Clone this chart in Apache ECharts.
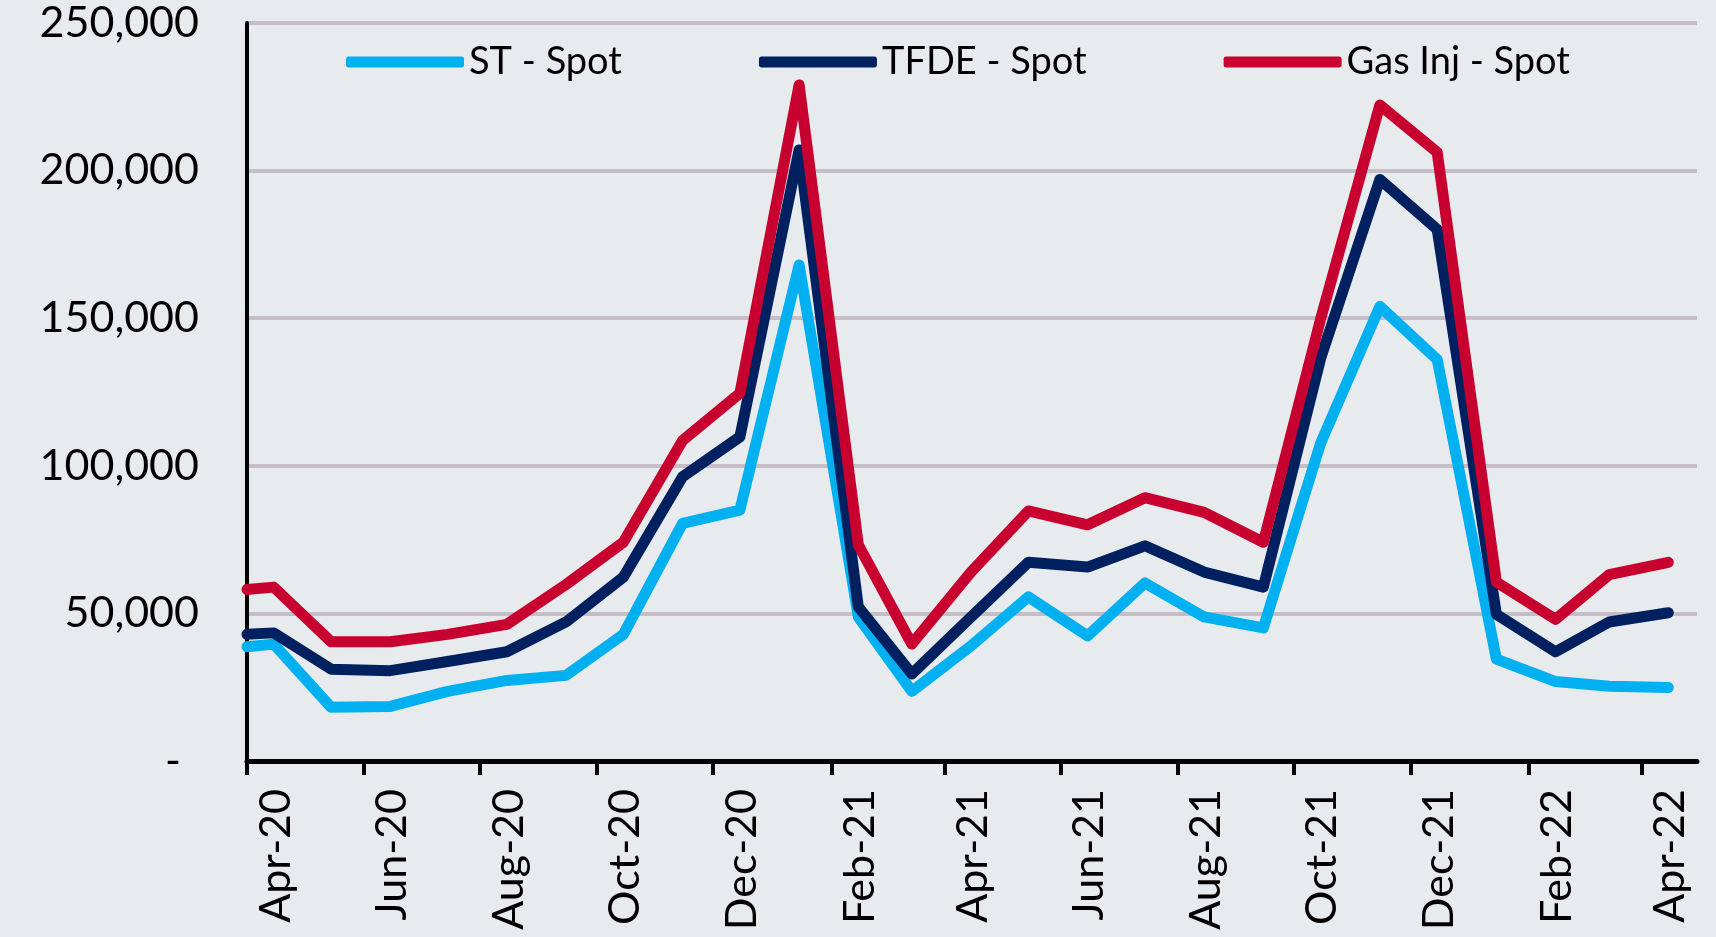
<!DOCTYPE html>
<html>
<head>
<meta charset="utf-8">
<script src="https://cdn.jsdelivr.net/npm/echarts@6/dist/echarts.min.js"></script>
<style>
  html, body { margin: 0; padding: 0; background: #E8EBEE; }
  #chart { width: 1716px; height: 937px; }
</style>
</head>
<body>
<div id="chart"></div>
<script>
// Spot charter rates by vessel type

var dates = [
    '2020-04-01', '2020-04-15', '2020-05-15', '2020-06-15', '2020-07-15', '2020-08-15',
    '2020-09-15', '2020-10-15', '2020-11-15', '2020-12-15', '2021-01-15', '2021-02-15',
    '2021-03-15', '2021-04-15', '2021-05-15', '2021-06-15', '2021-07-15', '2021-08-15',
    '2021-09-15', '2021-10-15', '2021-11-15', '2021-12-15', '2022-01-15', '2022-02-15',
    '2022-03-15', '2022-04-15'
];
var stSpot = [
    38700, 39600, 18200, 18500, 23600, 27300, 29000, 42900, 80500, 85000, 168000, 48800,
    23600, 39000, 55600, 42400, 60300, 48800, 45100, 107700, 154000, 136000, 34500, 26900,
    25300, 24900
];
var tfdeSpot = [
    42900, 43400, 31100, 30600, 33700, 37000, 47100, 62300, 96300, 109800, 207000, 52200,
    29500, 48800, 67300, 65700, 72900, 64000, 58900, 136400, 197000, 180100, 49700, 37000,
    47100, 50200
];
var gasInjSpot = [
    58100, 58900, 40400, 40400, 42900, 46300, 59800, 74100, 108600, 124600, 229000, 73200,
    39600, 64000, 84700, 80000, 89200, 84200, 74100, 149800, 222200, 206200, 60600, 48000,
    63100, 67300
];
var xTickDates = [
    '2020-04-01', '2020-06-01', '2020-08-01', '2020-10-01', '2020-12-01', '2021-02-01', '2021-04-01',
    '2021-06-01', '2021-08-01', '2021-10-01', '2021-12-01', '2022-02-01', '2022-04-01'
];
var xTickLabels = [
    'Apr-20', 'Jun-20', 'Aug-20', 'Oct-20', 'Dec-20', 'Feb-21', 'Apr-21',
    'Jun-21', 'Aug-21', 'Oct-21', 'Dec-21', 'Feb-22', 'Apr-22'
];
var yTickLabels = ['-', '50,000', '100,000', '150,000', '200,000', '250,000'];

// dates as day numbers (UTC) so the value axis spaces them by days
var DAY = 24 * 3600 * 1000;
function toDay(s) {
    var p = s.split('-');
    return Date.UTC(+p[0], +p[1] - 1, +p[2]) / DAY;
}

var tickValues = xTickDates.map(toDay);
// labels sit a little right of their tick, as in the original
var labelValues = tickValues.map(function (t) { return t + 15; });

function pairs(vals) {
    return dates.map(function (d, i) { return [toDay(d), vals[i]]; });
}

var chart = echarts.init(document.getElementById('chart'));

var font = 'Lato';

var option = {
    backgroundColor: '#E8EBEE',
    animation: false,
    grid: { left: 247, right: 19, top: 23, bottom: 176, containLabel: false },
    legend: {
        left: 346,
        top: 42,
        padding: 0,
        itemGap: 137,
        itemWidth: 118,
        itemHeight: 11,
        icon: 'roundRect',
        textStyle: { fontFamily: font, fontSize: 38, color: '#000', lineHeight: 40 },
        data: ['ST - Spot', 'TFDE - Spot', 'Gas Inj - Spot']
    },
    xAxis: {
        type: 'value',
        min: toDay('2020-04-01'),
        max: toDay('2022-04-30'),
        axisLine: { show: true, onZero: false, lineStyle: { color: '#000', width: 5 } },
        axisTick: {
            show: true,
            length: 14,
            lineStyle: { color: '#000', width: 4 },
            customValues: tickValues
        },
        splitLine: { show: false },
        axisLabel: {
            rotate: 90,
            margin: 28,
            fontFamily: font,
            fontSize: 43,
            color: '#000',
            customValues: labelValues,
            formatter: function (val) {
                var i = labelValues.indexOf(val);
                return i < 0 ? '' : xTickLabels[i];
            }
        }
    },
    yAxis: {
        type: 'value',
        min: 0,
        max: 250000,
        interval: 50000,
        axisLine: { show: true, lineStyle: { color: '#000', width: 4 } },
        axisTick: { show: false },
        splitLine: { show: true, lineStyle: { color: '#C7BDC7', width: 4 } },
        axisLabel: {
            margin: 48,
            fontFamily: font,
            fontSize: 43,
            color: '#000',
            formatter: function (val) {
                var i = Math.round(val / 50000);
                return i === 0 ? '{d|' + yTickLabels[0] + '}' : yTickLabels[i];
            },
            rich: {
                d: { fontFamily: font, fontSize: 43, color: '#000', padding: [0, 18, 0, 0] }
            }
        }
    },
    series: [
        {
            name: 'ST - Spot',
            type: 'line',
            color: '#00B0F0',
            symbol: 'none',
            lineStyle: { width: 11, cap: 'round', join: 'round' },
            data: pairs(stSpot)
        },
        {
            name: 'TFDE - Spot',
            type: 'line',
            color: '#002060',
            symbol: 'none',
            lineStyle: { width: 11, cap: 'round', join: 'round' },
            data: pairs(tfdeSpot)
        },
        {
            name: 'Gas Inj - Spot',
            type: 'line',
            color: '#C8002F',
            symbol: 'none',
            lineStyle: { width: 11, cap: 'round', join: 'round' },
            data: pairs(gasInjSpot)
        }
    ]
};

chart.setOption(option);
</script>
</body>
</html>
